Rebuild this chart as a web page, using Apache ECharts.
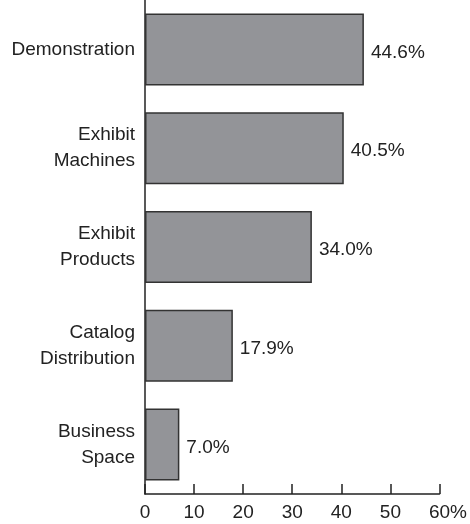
<!DOCTYPE html>
<html>
<head>
<meta charset="utf-8">
<script src="https://cdn.jsdelivr.net/npm/echarts@6/dist/echarts.min.js"></script>
<style>html,body{margin:0;padding:0;background:#fff}#c{width:470px;height:524px}</style>
</head>
<body>
<div id="c"></div>
<script>
var categories = ['Demonstration', 'Exhibit\nMachines', 'Exhibit\nProducts', 'Catalog\nDistribution', 'Business\nSpace'];
var values = [44.6, 40.5, 34.0, 17.9, 7.0];
var xTicks = [0, 10, 20, 30, 40, 50, 60];

var chart = echarts.init(document.getElementById('c'), null, {renderer: 'canvas'});
var font = '"Liberation Sans", Arial, sans-serif';
chart.setOption({
  animation: false,
  grid: {left: 145, right: 28.3, top: -2, bottom: 30, containLabel: false},
  xAxis: {
    type: 'value', min: xTicks[0], max: xTicks[xTicks.length - 1], interval: 10,
    splitLine: {show: false},
    axisLine: {show: true, lineStyle: {color: '#222', width: 1.5}},
    axisTick: {show: true, inside: true, length: 10, lineStyle: {color: '#222', width: 1.5}},
    axisLabel: {
      margin: 9, color: '#222', fontFamily: font, fontSize: 19,
      formatter: function (v) { return v === xTicks[xTicks.length - 1] ? '{q|' + v + '%}' : String(v); },
      rich: {q: {padding: [0, 0, 0, 17], fontSize: 19, fontFamily: font, color: '#222'}}
    }
  },
  yAxis: {
    type: 'category', data: categories, inverse: true,
    axisLine: {show: true, lineStyle: {color: '#222', width: 1.5}},
    axisTick: {show: false},
    axisLabel: {margin: 10, color: '#222', fontFamily: font, fontSize: 19, lineHeight: 26, align: 'right'}
  },
  series: [{
    type: 'bar', data: values, barWidth: 72,
    itemStyle: {color: '#939498', borderColor: '#333', borderWidth: 1.5},
    label: {
      show: true, position: 'right', distance: 7, offset: [0, 3],
      color: '#222', fontFamily: font, fontSize: 19,
      formatter: function (p) { return p.value.toFixed(1) + '%'; }
    }
  }]
});
</script>
</body>
</html>
